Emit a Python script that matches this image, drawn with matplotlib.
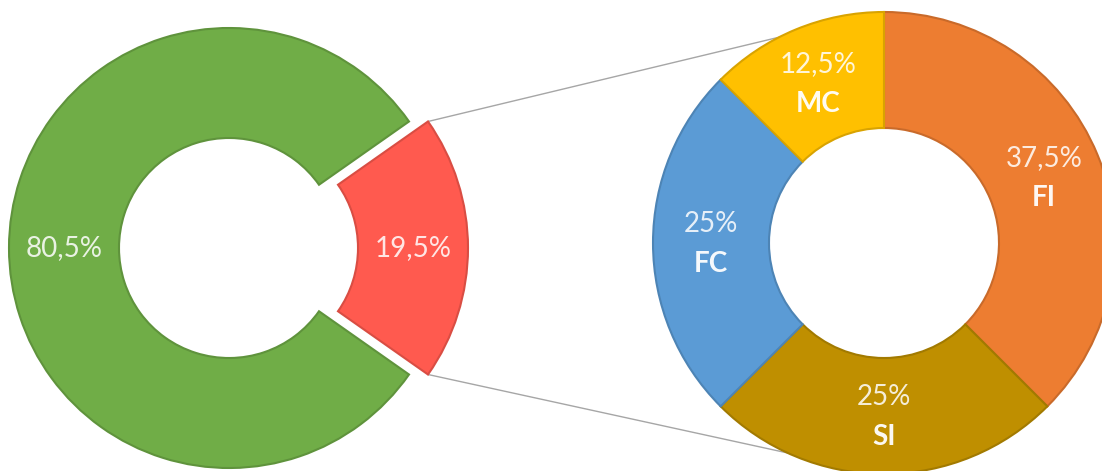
import numpy as np
import matplotlib
matplotlib.use("Agg")
import matplotlib.pyplot as plt
from matplotlib.colors import to_rgb

# main split and the breakdown of the smaller share
main_values = [80.5, 19.5]
main_colors = ["#70AD47", "#FF5A4F"]

detail_labels = ["FI", "SI", "FC", "MC"]
detail_values = [37.5, 25, 25, 12.5]
detail_colors = ["#ED7D31", "#BF8F00", "#5B9BD5", "#FFC000"]


def darker(c, f=0.85):
    return tuple(v * f for v in to_rgb(c))


def pct(v):
    return f"{v:g}%".replace(".", ",")


W, H = 1102, 471
fig = plt.figure(figsize=(W / 100, H / 100), dpi=100)
ax = fig.add_axes([0, 0, 1, 1])
ax.set_xlim(0, W)
ax.set_ylim(0, H)
ax.set_aspect("equal")
ax.axis("off")

plt.rcParams["font.family"] = ["Lato", "DejaVu Sans"]
txt_color = "white"

# left doughnut, small share pulled out towards the right
c1 = (229, 223)
R1, r1 = 220, 110
gap = 19  # explode offset is in data units here
start1 = 360 * main_values[1] / 200
ax.pie(main_values, colors=main_colors, center=c1, radius=R1,
       startangle=start1, counterclock=True, explode=[0, gap],
       wedgeprops=dict(width=R1 - r1, linewidth=1.5))
for w, col in zip(ax.patches, main_colors):
    w.set_edgecolor(darker(col))

# labels for the left ring
ang = start1
for i, v in enumerate(main_values):
    mid = np.deg2rad(ang + 180 * v / 100)
    ang += 360 * v / 100
    rr = (R1 + r1) / 2
    off = gap if i == 1 else 0
    ax.text(c1[0] + (rr + off) * np.cos(mid), c1[1] + (rr + off) * np.sin(mid),
            pct(v), ha="center", va="center", fontsize=20, color=txt_color,
            alpha=0.85)

# right doughnut with the breakdown
c2 = (884, 228)
R2, r2 = 231, 115

# connector lines from the pulled-out slice to the detail ring
a = np.deg2rad(start1)
top_corner = (c1[0] + gap + R1 * np.cos(a), c1[1] + R1 * np.sin(a))
bot_corner = (c1[0] + gap + R1 * np.cos(a), c1[1] - R1 * np.sin(a))
ax.plot([top_corner[0], c2[0]], [top_corner[1], c2[1] + R2],
        color="#A6A6A6", lw=1, zorder=0)
ax.plot([bot_corner[0], c2[0]], [bot_corner[1], c2[1] - R2],
        color="#A6A6A6", lw=1, zorder=0)

n_before = len(ax.patches)
ax.pie(detail_values, colors=detail_colors, center=c2, radius=R2,
       startangle=90, counterclock=False,
       wedgeprops=dict(width=R2 - r2, linewidth=1.5))
for w, col in zip(ax.patches[n_before:], detail_colors):
    w.set_edgecolor(darker(col))

ang = 90
for lab, v in zip(detail_labels, detail_values):
    mid = np.deg2rad(ang - 180 * v / 100)
    ang -= 360 * v / 100
    rr = (R2 + r2) / 2
    x = c2[0] + rr * np.cos(mid)
    y = c2[1] + rr * np.sin(mid)
    ax.text(x, y + 19, pct(v), ha="center", va="center", fontsize=20,
            color=txt_color, alpha=0.85)
    ax.text(x, y - 21, lab, ha="center", va="center", fontsize=20,
            fontweight="bold", color=txt_color, alpha=0.95)

ax.set_xlim(0, W)
ax.set_ylim(0, H)
fig.savefig("out.png", dpi=100)
